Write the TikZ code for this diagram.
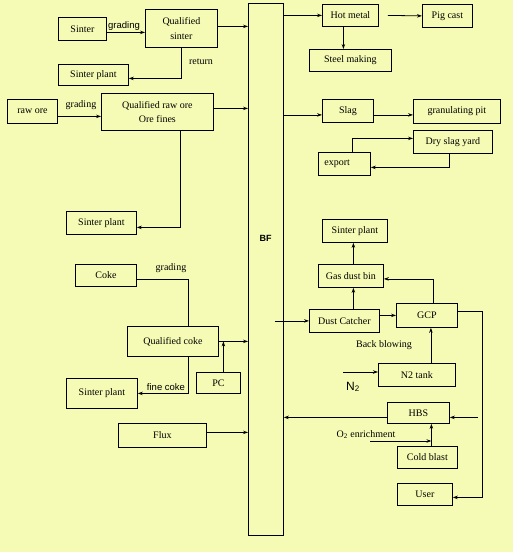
\documentclass[tikz,border=0pt]{standalone}
\usepackage{fontspec}
\setmainfont{Liberation Serif}
\setsansfont{Liberation Sans}
\usetikzlibrary{arrows.meta}
\definecolor{BgYellow}{HTML}{F5FBB4}

\begin{document}
\begin{tikzpicture}[
    x=1pt, y=-1pt,
    blk/.style={draw, line width=0.8pt, anchor=north west, inner sep=1pt,
                align=center, font=\fontsize{10}{15}\selectfont},
    sz/.style 2 args={minimum width=#1pt, minimum height=#2pt},
    lbl/.style={anchor=base, inner sep=0pt, font=\fontsize{10}{12}\selectfont},
    slbl/.style={lbl, font=\sffamily\fontsize{9.5}{11}\selectfont},
    ar/.style={-{Stealth[length=5pt,width=3.5pt]}, line width=0.8pt},
    ln/.style={line width=0.8pt},
  ]
    \fill[BgYellow] (0,0) rectangle (513,552);
    \useasboundingbox (0,0) rectangle (513,552);

    % ── Blast furnace ────────────────────────────────────────────────────
    \node[blk, sz={35}{532}] (bf) at (248,3) {};
    \node[font=\sffamily\bfseries\fontsize{9}{11}\selectfont, inner sep=0pt]
      (bflbl) at (265.5,238) {BF};

    % ── Burden side: sinter, ore, coke, flux ─────────────────────────────
    \node[blk, sz={48}{23}]  (sinter)  at (58,17)   {Sinter};
    \node[blk, sz={72}{38}]  (qsinter) at (145,9)   {Qualified\\sinter};
    \node[blk, sz={70}{21}]  (splantA) at (58,64)   {Sinter plant};
    \node[blk, sz={50}{24}]  (rawore)  at (7,99)    {raw ore};
    \node[blk, sz={112}{37}, font=\fontsize{10}{14}\selectfont]
                             (qore)    at (101,93)  {Qualified raw ore\\Ore fines};
    \node[blk, sz={70}{23}]  (splantB) at (66,211)  {Sinter plant};
    \node[blk, sz={61}{22}]  (coke)    at (75,264)  {Coke};
    \node[blk, sz={91}{30}]  (qcoke)   at (127,326) {Qualified coke};
    \node[blk, sz={44}{21}]  (pc)      at (196,372) {PC};
    \node[blk, sz={71}{30}]  (splantC) at (66,378)  {Sinter plant};
    \node[blk, sz={88}{24}]  (flux)    at (118,423) {Flux};

    % ── Products: hot metal and slag ─────────────────────────────────────
    \node[blk, sz={56}{22}]  (hotmetal) at (322,4)  {Hot metal};
    \node[blk, sz={50}{23}]  (pigcast)  at (422,4)  {Pig cast};
    \node[blk, sz={82}{22}]  (steel)    at (309,49) {Steel making};
    \node[blk, sz={51}{23}]  (slag)     at (322,99) {Slag};
    \node[blk, sz={87}{24}]  (granpit)  at (413,99) {granulating pit};
    \node[blk, sz={79}{23}]  (dryslag)  at (413,130) {Dry slag yard};
    \node[blk, sz={52}{23}, text width=40pt, align=left, inner xsep=6pt]
                             (export)   at (318,152) {export};

    % ── Gas cleaning and hot blast ───────────────────────────────────────
    \node[blk, sz={65}{23}]  (splantD)   at (322,219) {Sinter plant};
    \node[blk, sz={65}{23}]  (gasbin)    at (318,264) {Gas dust bin};
    \node[blk, sz={70}{23}]  (dustc)     at (309,309) {Dust Catcher};
    \node[blk, sz={61}{24}]  (gcp)       at (396,303) {GCP};
    \node[blk, sz={77}{23}]  (n2tank)    at (378,363) {N2 tank};
    \node[blk, sz={62}{21}]  (hbs)       at (387,402) {HBS};
    \node[blk, sz={60}{22}]  (coldblast) at (397,446) {Cold blast};
    \node[blk, sz={55}{22}]  (user)      at (397,483) {User};

    % ── Labels ───────────────────────────────────────────────────────────
    \node[slbl] (lgradA)  at (124,28)  {grading};
    \node[lbl]  (lreturn) at (201,64)  {return};
    \node[lbl]  (lgradB)  at (81,107)  {grading};
    \node[lbl]  (lgradC)  at (171,270) {grading};
    \node[slbl] (lfine)   at (166,390) {fine coke};
    \node[lbl]  (lback)   at (384,347) {Back blowing};
    \node[slbl, font=\sffamily\fontsize{12}{14}\selectfont]
                (lNtwo)   at (353,390) {N\textsubscript{2}};
    \node[lbl]  (lOtwo)   at (366,437) {O\textsubscript{2} enrichment};

    % ── Arrows into BF (left) ────────────────────────────────────────────
    \draw[ar] ([yshift=-3.5pt]sinter.east) -- ([yshift=-3.5pt]sinter.east -| qsinter.west);
    \draw[ar] (qsinter.south) |- ([yshift=-3.5pt]splantA.east);
    \draw[ar] ([yshift=-5pt]rawore.east) -- ([yshift=-5pt]rawore.east -| qore.west);
    \draw[ar] ([xshift=23pt]qore.south) |- ([yshift=-4.5pt]splantB.east);
    \draw[ln] ([yshift=-4pt]coke.east) -| ([xshift=15.5pt]qcoke.north);
    \draw[ar] ([xshift=15.5pt]qcoke.south) |- (splantC.east);
    \draw[ar] ([xshift=5pt]pc.north) -- ([xshift=5pt]pc.north |- qcoke.east);
    \foreach \n/\dy in {qsinter/2, qore/3.5, qcoke/0, flux/3}
      \draw[ar] ([yshift=\dy pt]\n.east) -- ([yshift=\dy pt]\n.east -| bf.west);

    % ── Arrows out of BF (right) ─────────────────────────────────────────
    \draw[ar] (bf.east |- hotmetal.west) -- (hotmetal.west);
    \draw[ar] ([xshift=9pt]hotmetal.east) -- (pigcast.west);
    \draw[ar] ([xshift=-7pt]hotmetal.south) -- ([xshift=-7pt]hotmetal.south |- steel.north);
    \coordinate (slagin) at ([yshift=-4pt]slag.west);
    \draw[ar] (bf.east |- slagin) -- (slagin);
    \draw[ar] ([yshift=-4pt]slag.east) -- ([yshift=-4pt]slag.east -| granpit.west);
    \draw[ar] ([xshift=8pt]export.north) |- ([yshift=3.5pt]dryslag.west);
    \draw[ar] ([xshift=-3.5pt]dryslag.south) |- ([yshift=-3.5pt]export.east);

    % ── Gas path ─────────────────────────────────────────────────────────
    \draw[ar] ([xshift=-9pt]bf.east |- dustc.west) -- (dustc.west);
    \draw[ar] ([xshift=9pt]dustc.north) -- ([xshift=9pt]dustc.north |- gasbin.south);
    \draw[ar] ([xshift=2.5pt]gasbin.north) -- ([xshift=2.5pt]gasbin.north |- splantD.south);
    \draw[ar] (dustc.east |- gcp.west) -- (gcp.west);
    \draw[ar] ([xshift=6pt]gcp.north) |- ([yshift=-3pt]gasbin.east);
    \coordinate (rbus) at (482,311);
    \draw[ar] (gcp.east |- rbus) -- (rbus) |- ([yshift=-3pt]user.east);

    % ── Blast and nitrogen ───────────────────────────────────────────────
    \coordinate (hbsin)  at ([yshift=-4.5pt]hbs.east);
    \coordinate (hbsout) at ([yshift=-4.5pt]hbs.west);
    \draw[ar] ([xshift=-4pt]rbus |- hbsin) -- (hbsin);
    \draw[ar] (hbsout) -- (hbsout -| bf.east);
    \coordinate (cbtop) at ([xshift=4pt]coldblast.north);
    \draw[ar] (cbtop) -- (cbtop |- hbs.south);
    \coordinate (o2in) at (370,441);
    \draw[ar] (o2in) -- (o2in -| cbtop);
    \coordinate (n2in) at (343,372);
    \draw[ar] (n2in) -- (n2in -| n2tank.west);
    \draw[ar] ([xshift=14pt]n2tank.north) -- ([xshift=14pt]n2tank.north |- gcp.south);
  \end{tikzpicture}
\end{document}
